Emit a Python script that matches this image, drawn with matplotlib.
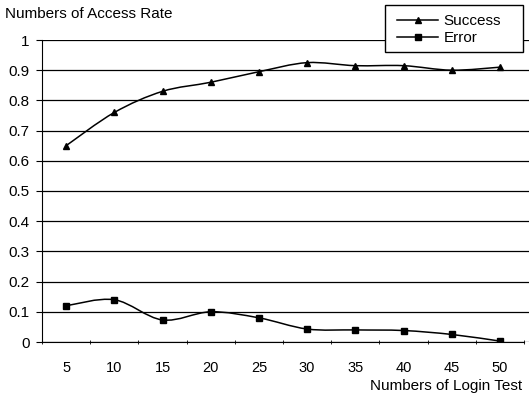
import numpy as np
import matplotlib
matplotlib.use("Agg")
import matplotlib.pyplot as plt
from matplotlib.path import Path
from matplotlib.patches import PathPatch, Rectangle
from matplotlib.lines import Line2D

plt.rcParams['font.family'] = ['Liberation Sans', 'DejaVu Sans']

login_tests = [5, 10, 15, 20, 25, 30, 35, 40, 45, 50]
success = [0.65, 0.76, 0.83, 0.86, 0.895, 0.925, 0.915, 0.915, 0.90, 0.91]
error = [0.12, 0.14, 0.073, 0.10, 0.08, 0.043, 0.04, 0.038, 0.025, 0.003]
y_ticks = [0, 0.1, 0.2, 0.3, 0.4, 0.5, 0.6, 0.7, 0.8, 0.9, 1]


def smooth_path(xs, ys, t=1/6):
    # Excel-like smoothed line: cubic bezier segments with catmull-rom handles
    xs = np.asarray(xs, float)
    ys = np.asarray(ys, float)
    verts = [(xs[0], ys[0])]
    codes = [Path.MOVETO]
    n = len(xs)
    for i in range(n - 1):
        x0, y0 = (xs[i - 1], ys[i - 1]) if i > 0 else (xs[i], ys[i])
        x3, y3 = (xs[i + 2], ys[i + 2]) if i + 2 < n else (xs[i + 1], ys[i + 1])
        c1 = (xs[i] + (xs[i + 1] - x0) * t, ys[i] + (ys[i + 1] - y0) * t)
        c2 = (xs[i + 1] - (x3 - xs[i]) * t, ys[i + 1] - (y3 - ys[i]) * t)
        verts += [c1, c2, (xs[i + 1], ys[i + 1])]
        codes += [Path.CURVE4] * 3
    return Path(verts, codes)


W, H = 529, 401
fig = plt.figure(figsize=(W / 100, H / 100), dpi=100)
ax = fig.add_axes([42 / W, 1 - 342 / H, (W - 42) / W, (342 - 40) / H])

n = len(login_tests)
pos = np.arange(1, n + 1)
for vals, mk, ms in [(success, '^', 5), (error, 's', 4.5)]:
    ax.add_patch(PathPatch(smooth_path(pos, vals), fill=False, edgecolor='black', lw=1.1))
    ax.plot(pos, vals, linestyle='none', marker=mk, color='black', markersize=ms)

ax.set_xlim(0.5, n + 0.5 + 5 / 48.2)
ax.set_ylim(0, 1)
ax.set_yticks(y_ticks)
ax.set_yticklabels([f"{v:g}" for v in y_ticks], fontsize=11)
ax.yaxis.grid(True, color='black', lw=0.9)
ax.set_axisbelow(True)

ax.set_xticks(pos)
ax.set_xticklabels([str(v) for v in login_tests], fontsize=10.5)
ax.tick_params(axis='x', which='major', length=0, pad=14)
ax.set_xticks(np.arange(0.5, n + 1), minor=True)
ax.tick_params(axis='x', which='minor', length=3, direction='inout', color='black')
ax.tick_params(axis='y', length=4, direction='out', color='black', pad=5)

for s in ['top', 'right']:
    ax.spines[s].set_visible(False)
ax.spines['left'].set_color('black')
ax.spines['bottom'].set_color('black')
ax.spines['bottom'].set_bounds(0.5, n + 0.5)

fig.text(5 / W, 1 - 14 / H, "Numbers of Access Rate", fontsize=11, va='center', ha='left')
fig.text(522 / W, 1 - 386 / H, "Numbers of Login Test", fontsize=11, va='center', ha='right')

# legend box drawn by hand (Excel-style wide padding)
fig.patches.append(Rectangle((385 / W, 1 - 52 / H), (523 - 385) / W, (52 - 5) / H,
                             transform=fig.transFigure, facecolor='white',
                             edgecolor='black', lw=1.0, zorder=5))
handles = [Line2D([], [], color='black', marker='^', markersize=5, lw=1.1),
           Line2D([], [], color='black', marker='s', markersize=4.5, lw=1.1)]
leg = fig.legend(handles, ["Success", "Error"], loc='upper left',
                 bbox_to_anchor=(394 / W, 1 - 11 / H), fontsize=11,
                 frameon=False, handlelength=2.7, borderpad=0.2,
                 labelspacing=0.2, handletextpad=0.35, borderaxespad=0)
leg.set_zorder(6)

fig.savefig("out.png", dpi=100)
